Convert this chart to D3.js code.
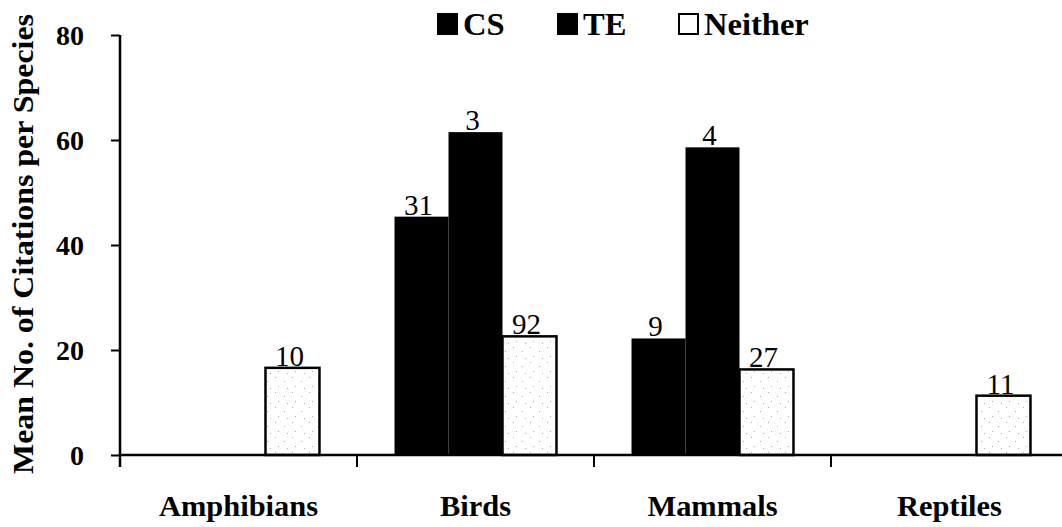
<!DOCTYPE html>
<html>
<head>
<meta charset="utf-8">
<script src="https://cdn.jsdelivr.net/npm/d3@7"></script>
<style>
  html, body { margin: 0; padding: 0; background: #fff; }
  svg { display: block; }
  text { font-family: "Liberation Serif", "Times New Roman", serif; fill: #000; }
</style>
</head>
<body>
<svg id="chart" width="1062" height="527"></svg>
<script>
const categories = ["Amphibians", "Birds", "Mammals", "Reptiles"];
const seriesNames = ["CS", "TE", "Neither"];
const csValues = [null, 45.4, 22.2, null];
const teValues = [null, 61.5, 58.6, null];
const neitherValues = [16.6, 22.6, 16.3, 11.3];
const csCounts = [null, "31", "9", null];
const teCounts = [null, "3", "4", null];
const neitherCounts = ["10", "92", "27", "11"];
const yTicks = [0, 20, 40, 60, 80];

const valuesBySeries = { CS: csValues, TE: teValues, Neither: neitherValues };
const countsBySeries = { CS: csCounts, TE: teCounts, Neither: neitherCounts };

const svg = d3.select("#chart");
const defs = svg.append("defs");
const pat = defs.append("pattern").attr("id", "stipple")
  .attr("patternUnits", "userSpaceOnUse").attr("width", 17).attr("height", 15);
pat.append("rect").attr("width", 17).attr("height", 15).attr("fill", "#fff");
[[3,2],[12,6],[6,11],[15,13]].forEach(([cx,cy]) =>
  pat.append("rect").attr("x", cx).attr("y", cy).attr("width", 1).attr("height", 1).attr("fill", "#aaa"));

const x = d3.scaleBand().domain(categories).range([120, 1068]).paddingInner(0).paddingOuter(0);
const x1 = d3.scaleBand().domain(seriesNames).range([0, x.bandwidth()]).paddingInner(0).paddingOuter(0.695);
const y = d3.scaleLinear().domain([0, 80]).range([455, 35]);

const barData = [];
categories.forEach((c, i) => {
  seriesNames.forEach(s => {
    const v = valuesBySeries[s][i];
    if (v != null) barData.push({ c, s, v, n: countsBySeries[s][i] });
  });
});

const g = svg.append("g");
g.selectAll("rect.bar").data(barData).join("rect")
  .attr("class", "bar")
  .attr("x", d => x(d.c) + x1(d.s))
  .attr("y", d => y(d.v))
  .attr("width", x1.bandwidth())
  .attr("height", d => y(0) - y(d.v))
  .attr("fill", d => d.s === "Neither" ? "url(#stipple)" : "#000")
  .attr("stroke", "#000")
  .attr("stroke-width", d => d.s === "Neither" ? 2.5 : 0);

g.selectAll("text.val").data(barData).join("text")
  .attr("class", "val")
  .attr("text-anchor", "middle")
  .attr("transform", d => `translate(${x(d.c) + x1(d.s) + x1.bandwidth() / 2 - 3},${y(d.v) - 2})`)
  .attr("font-size", 29)
  .text(d => d.n);

// x axis
const xAxisG = svg.append("g").attr("transform", `translate(0,${y(0)})`);
xAxisG.append("line").attr("x1", 120).attr("x2", 1068).attr("y1", 0).attr("y2", 0)
  .attr("stroke", "#000").attr("stroke-width", 2.5);
const bounds = categories.map(c => x(c));
xAxisG.selectAll("line.tick").data(bounds).join("line")
  .attr("class", "tick")
  .attr("x1", d => d).attr("x2", d => d).attr("y1", 0).attr("y2", 12)
  .attr("stroke", "#000").attr("stroke-width", 2);
svg.append("g").selectAll("text").data(categories).join("text")
  .attr("text-anchor", "middle")
  .attr("font-weight", "bold")
  .attr("font-size", 29)
  .attr("transform", c => `translate(${x(c) + x.bandwidth() / 2},516) scale(1.05,1)`)
  .text(c => c);

// y axis
const yAxis = d3.axisLeft(y).tickValues(yTicks).tickSize(9).tickPadding(27).tickFormat(d3.format("d"));
const yAxisG = svg.append("g").attr("transform", "translate(120,0)").call(yAxis);
yAxisG.select(".domain").attr("stroke-width", 2.5).attr("d", `M0,${y(80)}V${y(0) + 12}`);
yAxisG.selectAll(".tick line").attr("stroke-width", 2);
yAxisG.selectAll(".tick text")
  .attr("font-family", "Liberation Serif, Times New Roman, serif")
  .attr("font-weight", "bold").attr("font-size", 28).attr("fill", "#000")
  .attr("dy", "0.34em");

svg.append("text")
  .attr("transform", `translate(33,244) rotate(-90) scale(1.1,1)`)
  .attr("text-anchor", "middle")
  .attr("font-weight", "bold")
  .attr("font-size", 29)
  .text("Mean No. of Citations per Species");

// legend
const legendX = [437, 557, 678];
const legend = svg.append("g");
seriesNames.forEach((s, i) => {
  legend.append("rect")
    .attr("x", legendX[i] + 1).attr("y", 14).attr("width", 19).attr("height", 20)
    .attr("fill", s === "Neither" ? "#fff" : "#000")
    .attr("stroke", "#000").attr("stroke-width", 2);
  legend.append("text")
    .attr("transform", `translate(${legendX[i] + 26},35) scale(1.05,1)`)
    .attr("font-weight", "bold").attr("font-size", 31)
    .text(s);
});
</script>
</body>
</html>
